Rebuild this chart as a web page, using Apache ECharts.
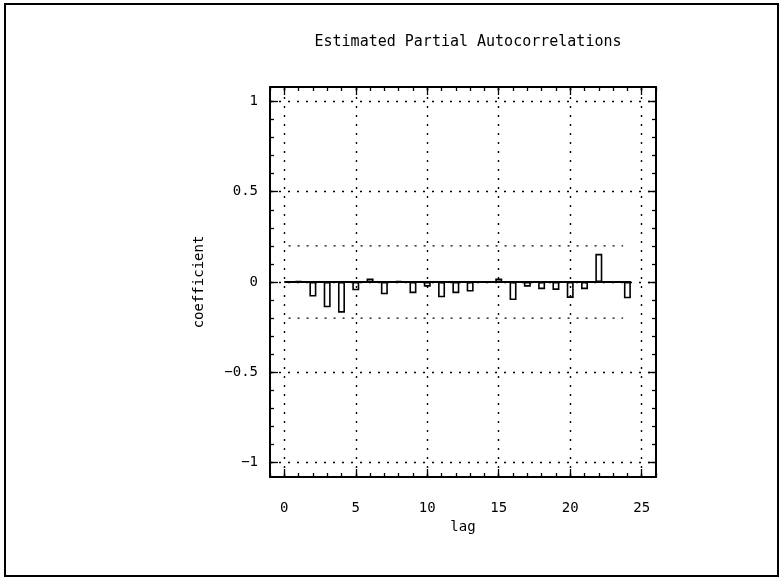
<!DOCTYPE html>
<html>
<head>
<meta charset="utf-8">
<script src="https://cdn.jsdelivr.net/npm/echarts@6/dist/echarts.min.js"></script>
<style>html,body{margin:0;padding:0;background:#fff;}#c{width:783px;height:580px;}</style>
</head>
<body>
<div id="c"></div>
<script>
// ---- data ----
const lags = [1,2,3,4,5,6,7,8,9,10,11,12,13,14,15,16,17,18,19,20,21,22,23,24];
const pacf = [0.004,-0.081,-0.14,-0.17,-0.046,0.02,-0.068,0.005,-0.062,-0.026,-0.085,-0.062,-0.053,0.002,0.02,-0.1,-0.026,-0.04,-0.044,-0.088,-0.04,0.156,-0.002,-0.09];
const xTickLabels = [0,5,10,15,20,25];
const yTickLabels = [-1,-0.5,0,0.5,1];
const confLimit = 0.2;
const confLagRange = [0.3, 23.7];
const zeroLineRange = [0, 24.25];
const titleText = 'Estimated Partial Autocorrelations';
const xName = 'lag';
const yName = 'coefficient';

// ---- helpers (tick positions) ----
const xMinor = []; for (let v = -1; v <= 26; v++) xMinor.push(v);
const yMinor = []; for (let i = -10; i <= 10; i++) yMinor.push(i / 10);

const FONT = 'DejaVu Sans Mono';
const XMIN = -1, XMAX = 26, YMIN = -1.08, YMAX = 1.08;

function xAx(pos, major, withLabel) {
  return {
    type: 'value', min: XMIN, max: XMAX, position: pos,
    axisLine: { show: major, onZero: false, lineStyle: { color: '#000', width: 2 } },
    axisTick: { show: true, inside: true, length: major ? 8 : 4,
      customValues: major ? xTickLabels : xMinor,
      lineStyle: { color: '#000', width: 1.3 } },
    axisLabel: withLabel ? { show: true, customValues: xTickLabels, margin: 24,
      color: '#000', fontFamily: FONT, fontSize: 14 } : { show: false },
    splitLine: { show: false },
    name: withLabel ? xName : '',
    nameLocation: 'middle', nameGap: 35,
    nameTextStyle: { color: '#000', fontFamily: FONT, fontSize: 14 }
  };
}
function yAx(pos, major, withLabel) {
  return {
    type: 'value', min: YMIN, max: YMAX, position: pos,
    axisLine: { show: major, onZero: false, lineStyle: { color: '#000', width: 2 } },
    axisTick: { show: true, inside: true, length: major ? 8 : 4,
      customValues: major ? yTickLabels : yMinor,
      lineStyle: { color: '#000', width: 1.3 } },
    axisLabel: withLabel ? { show: true, customValues: yTickLabels, margin: 12,
      color: '#000', fontFamily: FONT, fontSize: 14,
      formatter: v => (v < 0 ? '\u2212' : '') + String(Math.abs(v)) } : { show: false },
    splitLine: { show: false },
    name: withLabel ? yName : '',
    nameLocation: 'middle', nameGap: 64, nameRotate: 90,
    nameTextStyle: { color: '#000', fontFamily: FONT, fontSize: 14 }
  };
}

const dotted = { color: '#000', width: 1.4, type: [2, 7] };

const chart = echarts.init(document.getElementById('c'), null, { renderer: 'canvas' });
chart.setOption({
  animation: false,
  backgroundColor: '#fff',
  title: {
    text: titleText, left: 463, top: 30, textAlign: 'center',
    textStyle: { color: '#000', fontFamily: FONT, fontSize: 15, fontWeight: 'normal' }
  },
  grid: { left: 270, right: 127, top: 87, bottom: 103 },
  xAxis: [xAx('bottom', true, true), xAx('bottom', false, false), xAx('top', true, false), xAx('top', false, false)],
  yAxis: [yAx('left', true, true), yAx('left', false, false), yAx('right', true, false), yAx('right', false, false)],
  graphic: [{
    type: 'rect', silent: true, z: 100,
    shape: { x: 5, y: 4, width: 773, height: 572 },
    style: { fill: 'none', stroke: '#000', lineWidth: 2 }
  }],
  series: [
    {
      type: 'line', name: 'grid', xAxisIndex: 0, yAxisIndex: 0, z: 1,
      data: [], symbol: 'none', silent: true,
      markLine: {
        silent: true, symbol: ['none', 'none'], label: { show: false },
        lineStyle: dotted, animation: false,
        data: xTickLabels.map(v => ({ xAxis: v })).concat(yTickLabels.map(v => ({ yAxis: v })))
      }
    },
    {
      type: 'line', name: 'upper', xAxisIndex: 0, yAxisIndex: 0, z: 2,
      symbol: 'none', silent: true, lineStyle: dotted,
      data: confLagRange.map(x => [x, confLimit])
    },
    {
      type: 'line', name: 'lower', xAxisIndex: 0, yAxisIndex: 0, z: 2,
      symbol: 'none', silent: true, lineStyle: dotted,
      data: confLagRange.map(x => [x, -confLimit])
    },
    {
      type: 'bar', name: 'pacf', xAxisIndex: 0, yAxisIndex: 0, z: 3,
      barWidth: 7,
      itemStyle: { color: '#fff', borderColor: '#000', borderWidth: 1.6 },
      data: lags.map((l, i) => [l, pacf[i]])
    },
    {
      type: 'line', name: 'zero', xAxisIndex: 0, yAxisIndex: 0, z: 4,
      symbol: 'none', silent: true, lineStyle: { color: '#000', width: 2 },
      data: zeroLineRange.map(x => [x, 0])
    }
  ]
});
</script>
</body>
</html>
